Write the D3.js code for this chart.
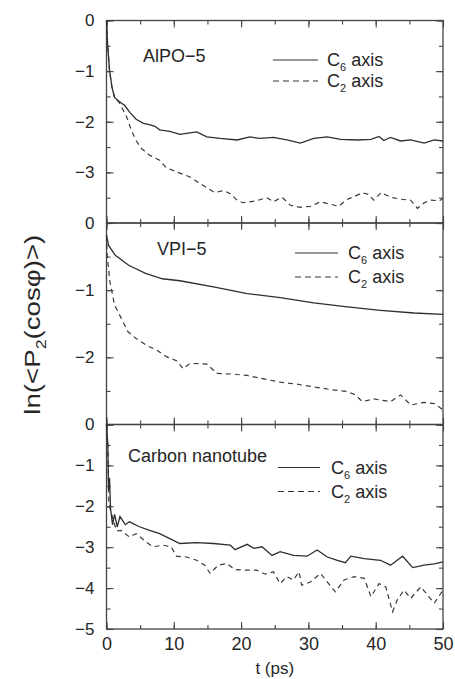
<!DOCTYPE html>
<html>
<head>
<meta charset="utf-8">
<script src="https://cdn.jsdelivr.net/npm/d3@7"></script>
<style>
  html, body { margin: 0; padding: 0; background: #fff; }
  svg { display: block; font-family: "Liberation Sans", Arial, Helvetica, sans-serif; }
</style>
</head>
<body>
<div id="chart"></div>
<script>
// ── Data (t in ps, value = ln<P2(cos phi)>) ─────────────────────────────────
const tTicks = [0, 10, 20, 30, 40, 50];

const alpoC6 = [
  [0, 0], [0.15, -0.45], [0.45, -0.98], [0.8, -1.31], [1.2, -1.52], [1.9, -1.6],
  [2.7, -1.68], [3.5, -1.82], [4.4, -1.95], [5.5, -2.03], [6.5, -2.06], [7.2, -2.09],
  [7.9, -2.16], [9.4, -2.19], [10.9, -2.25], [12.4, -2.22], [13.4, -2.2], [14.9, -2.3],
  [16.9, -2.33], [19.4, -2.36], [21.3, -2.3], [22.8, -2.33], [24.8, -2.31], [26.8, -2.36],
  [28.8, -2.42], [30.8, -2.33], [32.8, -2.3], [34.8, -2.35], [37.3, -2.36], [39.3, -2.35],
  [40.5, -2.29], [41.2, -2.37], [42.2, -2.31], [43.7, -2.38], [45.2, -2.36], [47.2, -2.42],
  [48.7, -2.36], [50, -2.38]
];
const alpoC2 = [
  [0, 0], [0.15, -0.45], [0.45, -0.98], [0.8, -1.31], [1.2, -1.52], [1.9, -1.62],
  [2.4, -1.75], [2.9, -1.87], [3.7, -2.17], [4.4, -2.37], [5.2, -2.53], [6.4, -2.66],
  [7.9, -2.76], [8.9, -2.91], [10.4, -2.99], [12.4, -3.09], [13.9, -3.22], [15.1, -3.32],
  [16.1, -3.4], [17.4, -3.36], [18.4, -3.42], [19.4, -3.55], [20.3, -3.6], [22.3, -3.56],
  [23.8, -3.5], [24.8, -3.58], [26.1, -3.49], [27.3, -3.65], [28.8, -3.69], [30.3, -3.67],
  [31.8, -3.58], [33.3, -3.63], [34.5, -3.67], [35.8, -3.53], [36.8, -3.48], [38, -3.4],
  [39, -3.44], [39.7, -3.55], [40.8, -3.4], [42.2, -3.49], [43.7, -3.53], [45.2, -3.55],
  [46.2, -3.71], [47.2, -3.6], [48.2, -3.55], [49.5, -3.56], [50, -3.51]
];

const vpiC6 = [
  [0, -0.18], [0.3, -0.33], [1.3, -0.48], [3.3, -0.63], [5.8, -0.75], [8.3, -0.83],
  [10.9, -0.86], [15.9, -0.95], [20.9, -1.05], [25.8, -1.11], [30.8, -1.19], [35.8, -1.25],
  [40.7, -1.3], [45.7, -1.34], [50, -1.36]
];
const vpiC2 = [
  [0, -0.18], [0.1, -0.48], [0.5, -0.87], [1.2, -1.22], [2.2, -1.42], [3.2, -1.62],
  [4.4, -1.72], [5.9, -1.82], [7.4, -1.89], [8.9, -1.99], [10.4, -2.05], [11.4, -2.17],
  [12.4, -2.09], [14.9, -2.1], [16.4, -2.24], [18.9, -2.25], [20.9, -2.27], [23.3, -2.32],
  [25.8, -2.37], [28.3, -2.4], [30.8, -2.44], [33.3, -2.48], [35.8, -2.51], [37, -2.56],
  [38, -2.66], [39.7, -2.62], [42.2, -2.66], [43.7, -2.56], [45.2, -2.71], [47.2, -2.67],
  [48.7, -2.69], [50, -2.78]
];

const cntC6 = [
  [0, 0], [0.2, -0.5], [0.3, -1.6], [0.45, -1.3], [0.6, -2.05], [0.9, -2.45], [1.2, -2.2],
  [1.6, -2.5], [2.0, -2.25], [2.8, -2.45], [3.4, -2.38], [4.9, -2.5], [6.4, -2.59],
  [7.9, -2.67], [9.4, -2.79], [10.9, -2.91], [13.4, -2.89], [15.9, -2.91], [18.4, -2.95],
  [19.1, -3.06], [20.9, -2.93], [21.9, -3.03], [23.1, -2.99], [24.6, -3.2], [25.8, -3.11],
  [27.8, -3.2], [29.8, -3.22], [31.3, -3.07], [32.8, -3.24], [34.3, -3.32], [35.5, -3.38],
  [36.3, -3.22], [38.3, -3.28], [40.7, -3.32], [42.2, -3.44], [44, -3.22], [45.5, -3.5],
  [47.2, -3.44], [48.7, -3.41], [50, -3.36]
];
const cntC2 = [
  [0, 0], [0.2, -0.5], [0.35, -1.9], [0.6, -2.1], [1, -2.34], [1.5, -2.6], [2.2, -2.59],
  [3.4, -2.75], [4.4, -2.67], [5.9, -2.87], [6.9, -2.99], [8.4, -2.95], [9.6, -2.99],
  [10.4, -3.22], [11.9, -3.24], [13.4, -3.32], [14.6, -3.44], [15.4, -3.64], [16.6, -3.44],
  [17.9, -3.4], [19.1, -3.55], [20.9, -3.56], [22.3, -3.56], [23.6, -3.66], [24.8, -3.6],
  [25.8, -3.89], [26.8, -3.72], [27.8, -3.8], [28.6, -3.6], [29, -3.93], [30.3, -3.85],
  [31.8, -3.64], [33, -3.89], [34, -4.09], [35.3, -3.8], [36.8, -3.72], [38.3, -3.76],
  [39.3, -4.21], [40.5, -3.89], [41.5, -3.97], [42.5, -4.58], [43.2, -4.29], [44.2, -4.05],
  [45.2, -4.25], [46.7, -3.97], [47.7, -4.17], [48.7, -4.37], [50, -4.05]
];

const panelNames = ['AlPO\u22125', 'VPI\u22125', 'Carbon nanotube'];
const yDomains   = [[-4, 0], [-3, 0], [-5, 0]];
const yLabelVals = [[0, -1, -2, -3], [0, -1, -2], [0, -1, -2, -3, -4, -5]];

// ── Layout ──────────────────────────────────────────────────────────────────
const W = 455, H = 679;
const left = 106.5, right = 443;
const bands = [20.5, 223, 424.5, 629];   // panel top/bottom edges
const ink = '#262626';

// per-panel text placement, relative to panel top
const layout = [
  { lx: 143, ly: 41.5, legX: [273, 318], legY: [39.5, 60.5], legTx: 327 },
  { lx: 157, ly: 32,   legX: [295, 338], legY: [30, 54],     legTx: 348 },
  { lx: 128, ly: 37,   legX: [278, 320], legY: [43, 67],     legTx: 331 },
];

const panels = [
  { name: panelNames[0], c6: alpoC6, c2: alpoC2, dom: yDomains[0], labels: yLabelVals[0] },
  { name: panelNames[1], c6: vpiC6,  c2: vpiC2,  dom: yDomains[1], labels: yLabelVals[1] },
  { name: panelNames[2], c6: cntC6,  c2: cntC2,  dom: yDomains[2], labels: yLabelVals[2] },
];

const svg = d3.select('#chart').append('svg')
  .attr('width', W).attr('height', H);

const x = d3.scaleLinear().domain([0, 50]).range([left, right]);
const xMinor = d3.range(0, 51, 5);

const fmt = v => (v < 0 ? '\u2212' + Math.abs(v) : String(v));

function styleAxis(g) {
  g.select('.domain').remove();
  g.selectAll('line').attr('stroke', '#444').attr('stroke-width', 1.1);
  g.selectAll('text').attr('fill', ink);
}

panels.forEach((p, i) => {
  const top = bands[i], bot = bands[i + 1];
  const y = d3.scaleLinear().domain(p.dom).range([bot, top]);
  const yMinor = d3.range(p.dom[0], p.dom[1] + 0.01, 0.5);
  const yMajor = d3.range(p.dom[0], p.dom[1] + 0.01, 1);
  const g = svg.append('g').attr('class', 'panel');

  // inward major/minor ticks on all four sides
  const majorLen = 7, minorLen = 4;
  [[d3.axisBottom, bot, x, tTicks], [d3.axisTop, top, x, tTicks]].forEach(([ax, pos, sc, vals]) => {
    g.append('g').attr('transform', `translate(0,${pos})`)
      .call(ax(sc).tickValues(xMinor).tickSize(-minorLen).tickFormat(''))
      .call(styleAxis);
    g.append('g').attr('transform', `translate(0,${pos})`)
      .call(ax(sc).tickValues(vals).tickSize(-majorLen).tickFormat(''))
      .call(styleAxis);
  });
  [[d3.axisLeft, left], [d3.axisRight, right]].forEach(([ax, pos]) => {
    g.append('g').attr('transform', `translate(${pos},0)`)
      .call(ax(y).tickValues(yMinor).tickSize(-minorLen).tickFormat(''))
      .call(styleAxis);
    g.append('g').attr('transform', `translate(${pos},0)`)
      .call(ax(y).tickValues(yMajor).tickSize(-majorLen).tickFormat(''))
      .call(styleAxis);
  });

  // y labels
  g.append('g').attr('transform', `translate(${left},0)`)
    .call(d3.axisLeft(y).tickValues(p.labels).tickSize(0).tickPadding(12).tickFormat(fmt))
    .call(styleAxis)
    .call(a => a.selectAll('text').attr('font-size', 17).attr('font-family', null));

  // frame
  g.append('rect')
    .attr('x', left).attr('y', top)
    .attr('width', right - left).attr('height', bot - top)
    .attr('fill', 'none').attr('stroke', '#444').attr('stroke-width', 1.3);

  // curves
  const line = d3.line().x(d => x(d[0])).y(d => y(d[1]));
  g.append('path').datum(p.c2)
    .attr('d', line).attr('fill', 'none')
    .attr('stroke', '#3a3a3a').attr('stroke-width', 1.2)
    .attr('stroke-dasharray', '5,4');
  g.append('path').datum(p.c6)
    .attr('d', line).attr('fill', 'none')
    .attr('stroke', '#2e2e2e').attr('stroke-width', 1.3);

  // panel name
  const L = layout[i];
  g.append('text')
    .attr('x', L.lx).attr('y', top + L.ly)
    .attr('font-size', 18).attr('fill', ink)
    .text(p.name);

  // legend
  const entries = [{ sub: '6', dash: null }, { sub: '2', dash: '6,4' }];
  entries.forEach((e, k) => {
    const ly = top + L.legY[k];
    g.append('line')
      .attr('x1', L.legX[0]).attr('x2', L.legX[1])
      .attr('y1', ly).attr('y2', ly)
      .attr('stroke', '#333').attr('stroke-width', 1.2)
      .attr('stroke-dasharray', e.dash);
    const t = g.append('text')
      .attr('x', L.legTx).attr('y', ly + 6)
      .attr('font-size', 18).attr('fill', ink);
    t.append('tspan').text('C');
    t.append('tspan').attr('font-size', 11).attr('dy', 5).text(e.sub);
    t.append('tspan').attr('dy', -5).text(' axis');
  });

  // x tick labels on the bottom panel only
  if (i === panels.length - 1) {
    g.append('g').attr('transform', `translate(0,${bot})`)
      .call(d3.axisBottom(x).tickValues(tTicks).tickSize(0).tickPadding(8).tickFormat(d3.format('d')))
      .call(styleAxis)
      .call(a => a.selectAll('text').attr('font-size', 18).attr('font-family', null));
  }
});

// axis titles
svg.append('text')
  .attr('x', (left + right) / 2).attr('y', 674)
  .attr('text-anchor', 'middle').attr('font-size', 17).attr('fill', ink)
  .text('t (ps)');

const yTitle = svg.append('text')
  .attr('transform', `translate(40,${(bands[0] + bands[3]) / 2}) rotate(-90)`)
  .attr('text-anchor', 'middle').attr('font-size', 22).attr('fill', ink)
  .attr('textLength', 180).attr('lengthAdjust', 'spacingAndGlyphs');
yTitle.append('tspan').text('ln(<P');
yTitle.append('tspan').attr('font-size', 14).attr('dy', 6).text('2');
yTitle.append('tspan').attr('dy', -6).text('(cos\u03c6)>)');
</script>
</body>
</html>
